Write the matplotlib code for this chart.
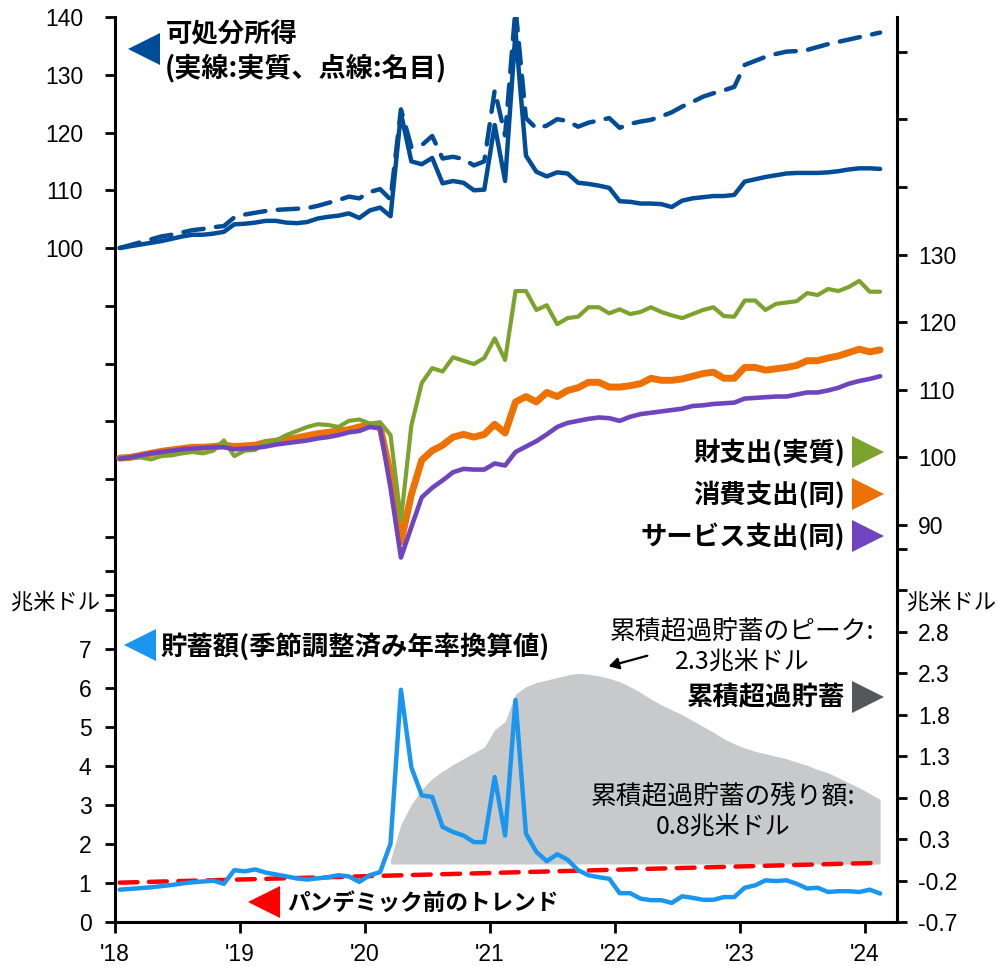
import matplotlib
matplotlib.use('Agg')
import matplotlib.pyplot as plt
from matplotlib.lines import Line2D
import numpy as np

plt.rcParams['font.family'] = 'Liberation Sans'
plt.rcParams['axes.unicode_minus'] = False

# monthly data, Jan 2018 - Feb 2024 (index: Jan 2018 = 100)
income_real = [100.0, 100.3, 100.6, 100.9, 101.2, 101.6, 102.0, 102.3, 102.3, 102.5, 102.8, 104.1,
               104.2, 104.4, 104.7, 104.7, 104.4, 104.3, 104.5, 105.1, 105.4, 105.6, 106.0, 105.2,
               106.5, 107.0, 105.5, 123.3, 115.0, 114.5, 115.6, 111.2, 111.6, 111.3, 110.0, 110.1,
               121.3, 111.6, 137.5, 116.0, 113.2, 112.4, 113.1, 112.9, 111.3, 111.1, 110.8, 110.4,
               108.1, 108.0, 107.7, 107.7, 107.6, 107.1, 108.2, 108.6, 108.8, 109.0, 109.0, 109.2,
               111.5, 111.9, 112.3, 112.6, 112.9, 113.0, 113.0, 113.0, 113.1, 113.3, 113.6, 113.8,
               113.8, 113.7]
income_nominal = [100.0, 100.5, 101.0, 101.5, 102.0, 102.3, 102.7, 103.1, 103.3, 103.6, 103.8, 105.3,
                  105.8, 106.1, 106.4, 106.6, 106.7, 106.8, 106.9, 107.3, 107.8, 108.3, 108.9, 108.6,
                  109.7, 110.2, 108.4, 124.0, 117.5, 117.8, 119.4, 115.5, 115.8, 115.4, 114.3, 115.0,
                  127.3, 119.5, 141.5, 122.5, 120.7, 121.2, 122.3, 122.0, 121.0, 121.7, 122.1, 122.5,
                  120.8, 121.5, 121.9, 122.2, 122.8, 123.5, 124.5, 125.3, 126.2, 126.8, 127.3, 127.9,
                  131.7, 132.4, 133.1, 133.6, 134.0, 134.1, 134.3, 134.8, 135.3, 135.7, 136.1, 136.5,
                  136.9, 137.3]
goods = [99.8, 99.9, 100.0, 99.7, 100.2, 100.3, 100.6, 100.8, 100.6, 101.0, 102.5, 100.2,
         101.0, 101.1, 102.3, 102.5, 103.3, 103.9, 104.5, 104.9, 104.8, 104.5, 105.4, 105.6,
         105.0, 105.2, 103.3, 90.7, 104.7, 111.0, 113.2, 112.7, 114.8, 114.3, 113.8, 114.7,
         117.6, 114.4, 124.6, 124.6, 121.8, 122.5, 119.7, 120.6, 120.8, 122.2, 122.2, 121.3,
         121.9, 121.2, 121.5, 122.2, 121.5, 121.0, 120.6, 121.2, 121.8, 122.2, 120.9, 120.8,
         123.2, 123.2, 121.8, 122.7, 122.9, 123.1, 124.3, 124.0, 124.9, 124.6, 125.2, 126.1,
         124.5, 124.5]
pce = [99.9, 100.0, 100.3, 100.6, 100.9, 101.1, 101.3, 101.5, 101.5, 101.6, 101.8, 101.6,
       101.7, 101.8, 102.2, 102.4, 102.6, 102.9, 103.2, 103.5, 103.7, 103.9, 104.1, 104.5,
       104.8, 104.5, 97.5, 87.5, 94.5, 99.6, 101.0, 101.8, 103.0, 103.4, 103.0, 103.4,
       104.9, 103.6, 108.2, 109.0, 108.2, 109.6, 109.0, 109.9, 110.3, 111.1, 111.1, 110.4,
       110.4, 110.6, 110.9, 111.7, 111.4, 111.4, 111.6, 112.0, 112.4, 112.6, 111.7, 111.7,
       113.3, 113.3, 112.9, 113.1, 113.3, 113.6, 114.3, 114.3, 114.7, 115.0, 115.5, 116.0,
       115.6, 115.9]
services = [99.8, 100.0, 100.3, 100.6, 100.8, 101.0, 101.2, 101.3, 101.4, 101.5, 101.5, 101.2,
            101.3, 101.4, 101.6, 101.9, 102.1, 102.3, 102.5, 102.8, 103.0, 103.3, 103.7, 103.9,
            104.5, 104.3, 95.5, 85.2, 89.7, 94.1, 95.5, 96.6, 97.8, 98.3, 98.2, 98.2,
            99.1, 98.8, 100.8, 101.6, 102.4, 103.4, 104.5, 105.1, 105.4, 105.7, 105.9, 105.8,
            105.4, 106.0, 106.4, 106.6, 106.8, 107.0, 107.2, 107.6, 107.7, 107.9, 108.0, 108.1,
            108.7, 108.8, 108.9, 109.0, 109.0, 109.3, 109.6, 109.6, 109.9, 110.3, 110.9, 111.3,
            111.6, 112.0]
# personal saving, trillion USD (SAAR)
saving = [0.83, 0.85, 0.87, 0.89, 0.92, 0.95, 0.99, 1.02, 1.04, 1.06, 0.98, 1.33,
          1.30, 1.35, 1.27, 1.22, 1.17, 1.12, 1.09, 1.12, 1.15, 1.20, 1.17, 1.03,
          1.20, 1.28, 2.01, 5.96, 3.97, 3.25, 3.21, 2.44, 2.31, 2.22, 2.05, 2.05,
          3.72, 2.22, 5.70, 2.27, 1.80, 1.56, 1.74, 1.60, 1.33, 1.20, 1.15, 1.11,
          0.74, 0.74, 0.60, 0.56, 0.56, 0.49, 0.66, 0.62, 0.57, 0.57, 0.64, 0.64,
          0.88, 0.94, 1.07, 1.05, 1.07, 0.98, 0.86, 0.88, 0.77, 0.79, 0.79, 0.77,
          0.83, 0.73]
trend_months = [0, 73]
trend = [1.01, 1.52]
# cumulative excess saving, trillion USD, Mar 2020 - Feb 2024
excess_start = 26
excess_cum = [0.05, 0.48, 0.72, 0.90, 1.03, 1.12, 1.20, 1.27, 1.34, 1.41,
              1.62, 1.72, 2.05, 2.14, 2.19, 2.22, 2.25, 2.28, 2.30, 2.29, 2.27, 2.24,
              2.20, 2.14, 2.07, 1.99, 1.92, 1.86, 1.80, 1.73, 1.66, 1.59, 1.51, 1.45,
              1.40, 1.36, 1.33, 1.30, 1.27, 1.23, 1.19, 1.14, 1.10, 1.04, 0.98, 0.92,
              0.85, 0.78]

year_labels = ["'18", "'19", "'20", "'21", "'22", "'23", "'24"]
inc_labeled = [100, 110, 120, 130, 140]
inc_minor = [40, 50, 60, 70, 80, 90]
sav_labeled = [0, 1, 2, 3, 4, 5, 6, 7]
sav_minor = [8, 9]
spd_labeled = [90, 100, 110, 120, 130]
spd_minor = [140, 150, 160]
cum_labeled = ['-0.7', '-0.2', '0.3', '0.8', '1.3', '1.8', '2.3', '2.8']
cum_minor = [3.3, 3.8]

NAVY = '#004C97'
GREEN = '#7DA32F'
ORANGE = '#EE7203'
PURPLE = '#6F45BF'
SKY = '#1B96F0'
RED = '#FF0000'
FILLGRAY = '#C8C9CA'
DARKGRAY = '#55585A'

W, H = 998, 966
fig = plt.figure(figsize=(W / 100, H / 100), dpi=100)


def fx(px):
    return px / W


def fy(py):
    return 1 - py / H


rect = [fx(115), 1 - 922 / H, (897 - 115) / W, (922 - 17) / H]
ax_cum = fig.add_axes(rect)
ax_sav = fig.add_axes(rect)
ax_spd = fig.add_axes(rect)
ax_inc = fig.add_axes(rect)

xm = lambda months: (np.asarray(months) + 0.45) / 12
x = xm(np.arange(len(income_real)))

for a in (ax_cum, ax_sav, ax_spd, ax_inc):
    a.set_xlim(0, 6.256)
    for s in a.spines.values():
        s.set_visible(False)
    a.patch.set_visible(False)
    a.tick_params(axis='both', direction='out', length=7, width=2, labelsize=16.5, color='black')
    a.set_xticks([])

# cumulative excess saving (right, bottom)
ax_cum.set_ylim(-0.7, 10.22)
ax_cum.yaxis.tick_right()
ax_cum.spines['right'].set_visible(True)
ax_cum.spines['right'].set_linewidth(2.2)
ax_cum.set_yticks([float(v) for v in cum_labeled] + cum_minor)
ax_cum.set_yticklabels(cum_labeled + [''] * len(cum_minor))
ax_cum.tick_params(axis='y', pad=8)
xc = xm(np.arange(excess_start, excess_start + len(excess_cum)))
ax_cum.fill_between(xc, 0, excess_cum, color=FILLGRAY, lw=0)

# saving (left, bottom)
ax_sav.set_ylim(0, 23.23)
ax_sav.spines['left'].set_visible(True)
ax_sav.spines['bottom'].set_visible(True)
ax_sav.spines['left'].set_linewidth(2.2)
ax_sav.spines['bottom'].set_linewidth(2.2)
ax_sav.set_yticks(sav_labeled + sav_minor)
ax_sav.set_yticklabels([str(v) for v in sav_labeled] + [''] * len(sav_minor))
ax_sav.tick_params(axis='y', pad=10)
ax_sav.set_xticks(range(len(year_labels)))
ax_sav.set_xticklabels(year_labels)
ax_sav.tick_params(axis='x', pad=7, length=8)
ax_sav.plot(xm(trend_months), trend, color=RED, lw=3.2, dashes=(4.0, 2.6), dash_capstyle='round')
ax_sav.plot(x, saving, color=SKY, lw=3.2, solid_joinstyle='round', solid_capstyle='round')

# consumer spending (right, middle)
ax_spd.set_ylim(31.3, 165.12)
ax_spd.yaxis.tick_right()
ax_spd.set_yticks(spd_labeled + spd_minor)
ax_spd.set_yticklabels([str(v) for v in spd_labeled] + [''] * len(spd_minor))
ax_spd.tick_params(axis='y', pad=8)
ax_spd.plot(x, pce, color=ORANGE, lw=5, solid_joinstyle='round', solid_capstyle='round')
ax_spd.plot(x, goods, color=GREEN, lw=3, solid_joinstyle='round', solid_capstyle='round')
ax_spd.plot(x, services, color=PURPLE, lw=3.3, solid_joinstyle='round', solid_capstyle='round')

# disposable income (left, top)
ax_inc.set_ylim(-16.7, 140)
ax_inc.set_yticks(inc_labeled + inc_minor)
ax_inc.set_yticklabels([str(v) for v in inc_labeled] + [''] * len(inc_minor))
ax_inc.tick_params(axis='y', pad=16)
ax_inc.plot(x, income_nominal, color=NAVY, lw=3.2, dashes=(4.6, 2.8), dash_capstyle='round')
ax_inc.plot(x, income_real, color=NAVY, lw=3.2, solid_joinstyle='round', solid_capstyle='round')

# annotations
JP = ['Noto Sans CJK JP']


def tri(px, py, color, marker):
    fig.add_artist(Line2D([fx(px)], [fy(py)], marker=marker, markersize=23, color=color,
                          mew=0, transform=fig.transFigure))


def label(px, py, s, ha='left', bold=True, size=19):
    fig.text(fx(px), fy(py), s, ha=ha, va='center', family=JP,
             weight='bold' if bold else 'normal', size=size)


tri(144, 49, NAVY, '<')
label(166, 35, '可処分所得')
label(165, 68, '(実線:実質、点線:名目)', size=19.5)

tri(868, 452, GREEN, '>')
label(845, 453, '財支出(実質)', ha='right')
tri(868, 494, ORANGE, '>')
label(845, 495, '消費支出(同)', ha='right')
tri(868, 536, PURPLE, '>')
label(845, 537, 'サービス支出(同)', ha='right')

tri(140, 645, SKY, '<')
label(160, 647, '貯蓄額(季節調整済み年率換算値)')
tri(264, 902, RED, '<')
label(287, 903, 'パンデミック前のトレンド', size=16.3)
tri(868, 697, DARKGRAY, '>')
label(845, 698, '累積超過貯蓄', ha='right')

label(742, 632, '累積超過貯蓄のピーク:', ha='center', bold=False, size=18.5)
label(742, 663, '2.3兆米ドル', ha='center', bold=False, size=18)
label(723, 797, '累積超過貯蓄の残り額:', ha='center', bold=False, size=18.5)
label(723, 828, '0.8兆米ドル', ha='center', bold=False, size=18)
fig.add_artist(matplotlib.patches.FancyArrowPatch(
    (fx(650), fy(655)), (fx(606), fy(667)), transform=fig.transFigure,
    arrowstyle='-|>,head_length=6,head_width=3.5', color='black', lw=1.6))

label(55, 602, '兆米ドル', ha='center', bold=False, size=16)
label(951, 602, '兆米ドル', ha='center', bold=False, size=16)

fig.savefig('out.png', dpi=100)
